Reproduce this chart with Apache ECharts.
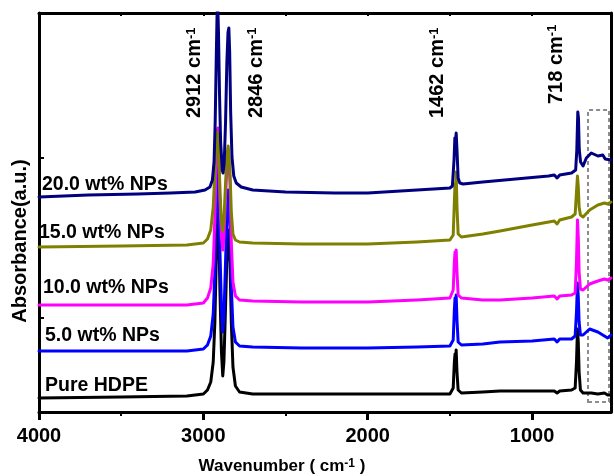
<!DOCTYPE html>
<html>
<head>
<meta charset="utf-8">
<script src="https://cdn.jsdelivr.net/npm/echarts@6/dist/echarts.min.js"></script>
<style>
  html, body { margin: 0; padding: 0; background: #fff; }
  #chart { width: 614px; height: 476px; }
</style>
</head>
<body>
<div id="chart"></div>
<script>
// FTIR spectra of HDPE films, [wavenumber (cm-1), absorbance (a.u., offset per sample)]
const pureHDPE = [
  [4000,0.14],[3500,0.15],[3100,0.16],[3000,0.18],[2975,0.22],[2955,0.30],[2940,0.50],[2930,0.90],
  [2922,1.50],[2916,1.90],[2912,1.98],[2906,1.80],[2899,1.20],[2890,0.60],[2882,0.36],[2875,0.50],
  [2866,1.00],[2857,1.55],[2849,1.82],[2844,1.80],[2838,1.50],[2830,0.90],[2820,0.45],[2805,0.26],
  [2780,0.20],[2700,0.18],[2400,0.18],[2000,0.18],[1700,0.18],[1500,0.18],[1480,0.24],[1473,0.50],
  [1469,0.58],[1465,0.52],[1462,0.62],[1457,0.40],[1450,0.22],[1430,0.19],[1300,0.20],[1195,0.21],
  [1000,0.21],[865,0.21],[848,0.19],[832,0.21],[760,0.22],[738,0.24],[730,0.50],[724,0.83],
  [719,0.70],[714,0.40],[706,0.22],[690,0.19],[640,0.19],[600,0.18],[560,0.19],[540,0.17],[520,0.17]
];
const np5 = [
  [4000,0.61],[3500,0.61],[3100,0.61],[3000,0.63],[2975,0.67],[2955,0.76],[2940,0.98],[2930,1.40],
  [2922,2.00],[2916,2.38],[2912,2.45],[2906,2.25],[2899,1.60],[2890,1.05],[2882,0.80],[2875,0.95],
  [2866,1.45],[2857,1.95],[2849,2.22],[2844,2.20],[2838,1.85],[2830,1.25],[2820,0.85],[2805,0.70],
  [2780,0.66],[2700,0.65],[2400,0.64],[2000,0.64],[1700,0.65],[1500,0.66],[1480,0.72],[1473,1.02],
  [1469,1.14],[1465,1.08],[1462,1.17],[1457,0.92],[1450,0.70],[1430,0.67],[1300,0.68],[1195,0.70],
  [1000,0.71],[865,0.73],[848,0.70],[832,0.73],[760,0.73],[738,0.76],[730,1.00],[724,1.29],
  [719,1.15],[714,0.90],[706,0.77],[690,0.77],[650,0.83],[600,0.80],[560,0.76],[540,0.74],[520,0.77]
];
const np10 = [
  [4000,1.07],[3500,1.07],[3100,1.07],[3000,1.09],[2975,1.14],[2955,1.24],[2940,1.48],[2930,1.95],
  [2922,2.50],[2916,2.80],[2912,2.84],[2906,2.65],[2899,2.10],[2890,1.75],[2882,1.62],[2875,1.75],
  [2866,2.10],[2857,2.45],[2849,2.62],[2844,2.60],[2838,2.30],[2830,1.70],[2820,1.30],[2805,1.16],
  [2780,1.12],[2700,1.11],[2400,1.10],[2000,1.10],[1700,1.12],[1500,1.14],[1480,1.22],[1473,1.50],
  [1469,1.60],[1465,1.55],[1462,1.62],[1457,1.40],[1450,1.17],[1430,1.14],[1300,1.12],[1195,1.12],
  [1000,1.14],[865,1.16],[848,1.13],[832,1.16],[760,1.17],[738,1.19],[730,1.50],[724,1.92],
  [719,1.75],[714,1.40],[706,1.23],[690,1.22],[650,1.28],[600,1.31],[560,1.33],[540,1.32],[520,1.34]
];
const np15 = [
  [4000,1.65],[3500,1.66],[3100,1.67],[3000,1.69],[2975,1.73],[2955,1.82],[2940,2.05],[2930,2.40],
  [2922,2.70],[2916,2.80],[2912,2.79],[2906,2.60],[2899,2.20],[2890,1.90],[2882,1.81],[2875,1.92],
  [2866,2.25],[2857,2.55],[2849,2.66],[2844,2.64],[2838,2.40],[2830,2.00],[2820,1.78],[2805,1.72],
  [2780,1.70],[2700,1.69],[2400,1.68],[2000,1.68],[1700,1.70],[1500,1.72],[1480,1.77],[1473,2.10],
  [1469,2.28],[1465,2.22],[1462,2.40],[1457,2.05],[1450,1.78],[1430,1.75],[1300,1.78],[1195,1.81],
  [1000,1.87],[865,1.91],[848,1.88],[832,1.92],[760,1.95],[738,1.98],[730,2.20],[724,2.36],
  [719,2.25],[714,2.05],[706,1.97],[690,1.95],[650,2.02],[600,2.07],[560,2.09],[540,2.08],[520,2.10]
];
const np20 = [
  [4000,2.15],[3700,2.17],[3400,2.18],[3200,2.19],[3050,2.20],[2990,2.22],[2960,2.25],[2945,2.32],
  [2935,2.50],[2928,2.90],[2922,3.50],[2917,3.95],[2913,4.10],[2908,3.80],[2902,3.20],[2895,2.70],
  [2885,2.42],[2880,2.39],[2873,2.50],[2865,2.90],[2857,3.50],[2850,3.80],[2845,3.84],[2840,3.60],
  [2834,3.00],[2826,2.55],[2815,2.36],[2800,2.29],[2770,2.25],[2700,2.22],[2500,2.20],[2200,2.19],
  [2000,2.19],[1800,2.21],[1600,2.23],[1500,2.24],[1485,2.26],[1475,2.52],[1470,2.74],[1466,2.70],
  [1462,2.79],[1457,2.62],[1450,2.34],[1440,2.29],[1420,2.28],[1300,2.30],[1100,2.33],[900,2.36],
  [865,2.37],[848,2.34],[832,2.37],[760,2.39],[735,2.42],[728,2.62],[722,3.00],[718,2.94],
  [713,2.62],[705,2.50],[690,2.46],[670,2.54],[640,2.59],[600,2.56],[570,2.57],[555,2.53],[520,2.52]
];

const sampleNames  = ['Pure HDPE', '5.0 wt% NPs', '10.0 wt% NPs', '15.0 wt% NPs', '20.0 wt% NPs'];
const sampleColors = ['#000000', '#0000ff', '#ff00ff', '#808000', '#000080'];
const sampleData   = [pureHDPE, np5, np10, np15, np20];

// Wavenumber axis ticks
const majorTicks = [1000, 2000, 3000, 4000];
const minorTicks = [1500, 2500, 3500];
const topTicks   = [1000, 1500, 2000, 2500, 3000, 3500];
const leftTicks  = [0.94, 2.54];

// Band assignments
const bandLabels = ['2912', '2846', '1462', '718'];

const FONT = '"Liberation Sans", Arial, sans-serif';
const WN_MIN = 520, WN_MAX = 4000, A_MIN = 0, A_MAX = 3.99;

const chart = echarts.init(document.getElementById('chart'), null, { renderer: 'canvas' });

const frameLine = { show: true, onZero: false, lineStyle: { color: '#000', width: 3 } };

const option = {
  animation: false,
  backgroundColor: '#fff',
  grid: { left: 39, right: 3, top: 13, bottom: 64, containLabel: false },
  xAxis: [
    {
      type: 'value', position: 'bottom', inverse: true, min: WN_MIN, max: WN_MAX,
      axisLine: frameLine,
      axisTick: { show: true, inside: false, length: 8, customValues: majorTicks,
                  lineStyle: { color: '#000', width: 3 } },
      axisLabel: { show: true, customValues: majorTicks, margin: 14, color: '#000',
                   fontFamily: FONT, fontWeight: 'bold', fontSize: 20,
                   formatter: v => String(v) },
      splitLine: { show: false }
    },
    {
      type: 'value', position: 'bottom', inverse: true, min: WN_MIN, max: WN_MAX,
      axisLine: { show: false },
      axisTick: { show: true, inside: false, length: 4, customValues: minorTicks,
                  lineStyle: { color: '#000', width: 2 } },
      axisLabel: { show: false },
      splitLine: { show: false }
    },
    {
      type: 'value', position: 'top', inverse: true, min: WN_MIN, max: WN_MAX,
      axisLine: frameLine,
      axisTick: { show: true, inside: true, length: 3, customValues: topTicks,
                  lineStyle: { color: '#000', width: 2 } },
      axisLabel: { show: false },
      splitLine: { show: false }
    }
  ],
  yAxis: [
    {
      type: 'value', position: 'left', min: A_MIN, max: A_MAX,
      axisLine: frameLine,
      axisTick: { show: true, inside: true, length: 5, customValues: leftTicks,
                  lineStyle: { color: '#000', width: 2 } },
      axisLabel: { show: false },
      splitLine: { show: false }
    },
    {
      type: 'value', position: 'right', min: A_MIN, max: A_MAX,
      axisLine: frameLine,
      axisTick: { show: false },
      axisLabel: { show: false },
      splitLine: { show: false }
    }
  ],
  series: sampleData.map((d, i) => ({
    name: sampleNames[i],
    type: 'line',
    xAxisIndex: 0, yAxisIndex: 0,
    data: d,
    symbol: 'none',
    smooth: false,
    clip: true,
    lineStyle: { color: sampleColors[i], width: 3, join: 'round', cap: 'round' },
    z: 2 + i,
    markArea: i === 0 ? {
      silent: true,
      itemStyle: { color: 'rgba(0,0,0,0)', borderColor: '#8c8c8c', borderWidth: 2, borderType: [4, 3] },
      data: [[{ xAxis: 660, yAxis: 0.10 }, { xAxis: 532, yAxis: 3.02 }]]
    } : undefined
  }))
};
chart.setOption(option);

// Text annotations: sample names, band positions and axis titles
const sampleLabelPos = [[45, 386], [45, 336], [43, 288], [39, 233], [42, 185]];
const bandLabelPos = [[194.5, 118], [256, 118], [437.5, 118], [556, 104]];

const richSup = {
  a: { fontFamily: FONT, fontWeight: 'bold', fontSize: 20, color: '#000' },
  b: { fontFamily: FONT, fontWeight: 'bold', fontSize: 13, color: '#000', verticalAlign: 'top' }
};

const graphics = [];
sampleNames.forEach((name, i) => {
  graphics.push({
    type: 'text', x: sampleLabelPos[i][0], y: sampleLabelPos[i][1], z: 100,
    style: { text: name, fontFamily: FONT, fontWeight: 'bold', fontSize: 19.5, fill: '#000',
             align: 'left', verticalAlign: 'middle' }
  });
});
bandLabels.forEach((b, i) => {
  graphics.push({
    type: 'text', x: bandLabelPos[i][0], y: bandLabelPos[i][1], rotation: Math.PI / 2, z: 100,
    style: { text: '{a|' + b + ' cm}{b|-1}', rich: richSup, align: 'left', verticalAlign: 'middle' }
  });
});
graphics.push({
  type: 'text', x: 282, y: 466, z: 100,
  style: {
    text: '{a|Wavenumber ( cm}{b|-1}{a| )}',
    rich: {
      a: { fontFamily: FONT, fontWeight: 'bold', fontSize: 17, color: '#000' },
      b: { fontFamily: FONT, fontWeight: 'bold', fontSize: 12, color: '#000', verticalAlign: 'top' }
    },
    align: 'center', verticalAlign: 'middle'
  }
});
graphics.push({
  type: 'text', x: 20, y: 241, rotation: Math.PI / 2, z: 100,
  style: { text: 'Absorbance(a.u.)', fontFamily: FONT, fontWeight: 'bold', fontSize: 20, fill: '#000',
           align: 'center', verticalAlign: 'middle' }
});
chart.setOption({ graphic: graphics });
</script>
</body>
</html>
